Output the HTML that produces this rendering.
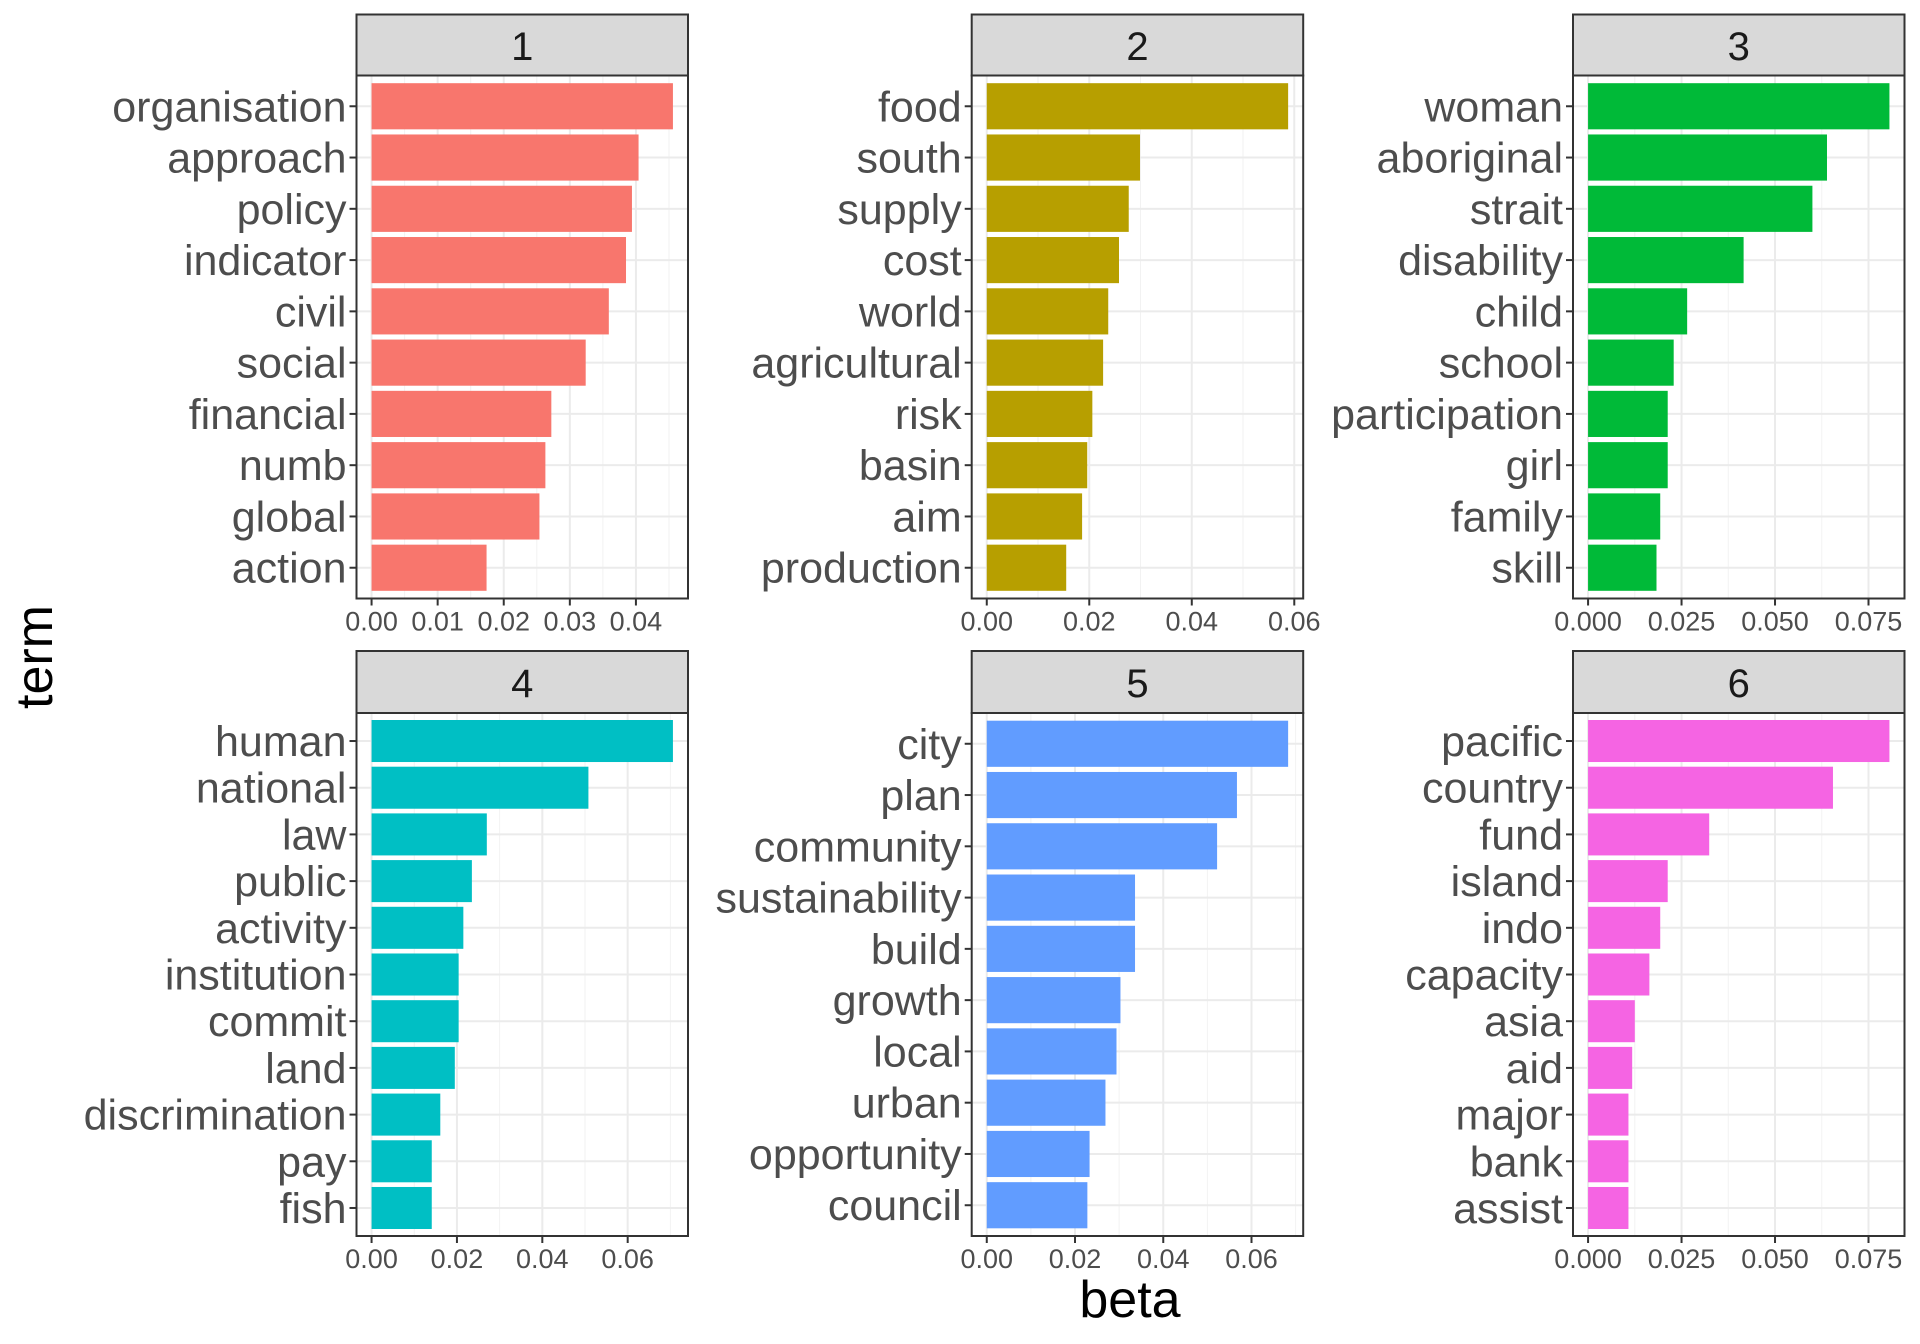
<!DOCTYPE html>
<html><head><meta charset="utf-8">
<style>
html,body{margin:0;padding:0;background:#fff;}
svg{display:block;font-family:"Liberation Sans","DejaVu Sans",sans-serif;}
</style></head>
<body>
<svg id="chart" width="1920" height="1344" viewBox="0 0 1920 1344" xmlns="http://www.w3.org/2000/svg">
<text x="1130" y="1317" font-size="52" text-anchor="middle" fill="#000">beta</text>
<text transform="translate(52,657) rotate(-90)" font-size="52" text-anchor="middle" fill="#000">term</text>
</svg>
<script>
const terms1 = ["organisation","approach","policy","indicator","civil","social","financial","numb","global","action"];
const beta1 = [0.0456,0.0404,0.0394,0.0385,0.0359,0.0324,0.0272,0.0263,0.0254,0.0174];
const terms2 = ["food","south","supply","cost","world","agricultural","risk","basin","aim","production"];
const beta2 = [0.0588,0.0299,0.0277,0.0258,0.0237,0.0227,0.0206,0.0196,0.0186,0.0155];
const terms3 = ["woman","aboriginal","strait","disability","child","school","participation","girl","family","skill"];
const beta3 = [0.0806,0.0639,0.0600,0.0416,0.0265,0.0229,0.0213,0.0213,0.0193,0.0183];
const terms4 = ["human","national","law","public","activity","institution","commit","land","discrimination","pay","fish"];
const beta4 = [0.0706,0.0508,0.0270,0.0235,0.0215,0.0204,0.0204,0.0195,0.0161,0.0141,0.0141];
const terms5 = ["city","plan","community","sustainability","build","growth","local","urban","opportunity","council"];
const beta5 = [0.0683,0.0567,0.0522,0.0336,0.0336,0.0303,0.0294,0.0269,0.0233,0.0228];
const terms6 = ["pacific","country","fund","island","indo","capacity","asia","aid","major","bank","assist"];
const beta6 = [0.0806,0.0655,0.0324,0.0213,0.0193,0.0164,0.0125,0.0118,0.0108,0.0108,0.0108];
const ticks1 = [0,0.01,0.02,0.03,0.04];
const tickLabels1 = ["0.00","0.01","0.02","0.03","0.04"];
const ticks2 = [0,0.02,0.04,0.06];
const tickLabels2 = ["0.00","0.02","0.04","0.06"];
const ticks3 = [0,0.025,0.05,0.075];
const tickLabels3 = ["0.000","0.025","0.050","0.075"];
const topicLabels = ["1","2","3","4","5","6"];

const svg = document.getElementById('chart');
const NS = 'http://www.w3.org/2000/svg';
function mk(tag, attrs, parent){
  const e = document.createElementNS(NS, tag);
  for (const k in attrs) e.setAttribute(k, attrs[k]);
  (parent||svg).appendChild(e);
  return e;
}
const colLeft = [356.5, 971.7, 1573];
const W = 331.5;
const rows = [{stripTop:14.5, top:75.5, bottom:598.5},{stripTop:651, top:713, bottom:1236}];
const panels = [
  {terms:terms1, beta:beta1, ticks:ticks1, labels:tickLabels1, color:"#F8766D", col:0, row:0},
  {terms:terms2, beta:beta2, ticks:ticks2, labels:tickLabels2, color:"#B79F00", col:1, row:0},
  {terms:terms3, beta:beta3, ticks:ticks3, labels:tickLabels3, color:"#00BA38", col:2, row:0},
  {terms:terms4, beta:beta4, ticks:ticks2, labels:tickLabels2, color:"#00BFC4", col:0, row:1},
  {terms:terms5, beta:beta5, ticks:ticks2, labels:tickLabels2, color:"#619CFF", col:1, row:1},
  {terms:terms6, beta:beta6, ticks:ticks3, labels:tickLabels3, color:"#F564E3", col:2, row:1}
];
panels.forEach((p, i) => {
  const L = colLeft[p.col], R = L + W;
  const r = rows[p.row];
  const g = mk('g', {});
  
  
  const maxV = Math.max(...p.beta);
  const lo = -0.05*maxV, hi = 1.05*maxV;
  const x = v => L + (v - lo)/(hi - lo)*W;
  const n = p.terms.length;
  const H = r.bottom - r.top;
  const step = H/(n - 1 + 1.2);
  const y = k => r.top + step*(0.6 + k);
  mk('rect', {x:L, y:r.top, width:W, height:H, fill:'#fff'}, g);
  const dmin = p.ticks[1]-p.ticks[0];
  for (let t = 0; t < p.ticks.length; t++){
    const mv = p.ticks[t] + dmin/2;
    if (x(mv) < R) mk('line', {x1:x(mv), x2:x(mv), y1:r.top, y2:r.bottom, stroke:'#f2f2f2', 'stroke-width':1}, g);
  }
  if (x(-dmin/2) > L) mk('line', {x1:x(-dmin/2), x2:x(-dmin/2), y1:r.top, y2:r.bottom, stroke:'#f2f2f2', 'stroke-width':1}, g);
  p.ticks.forEach(t => mk('line', {x1:x(t), x2:x(t), y1:r.top, y2:r.bottom, stroke:'#ebebeb', 'stroke-width':2}, g));
  p.terms.forEach((_, k) => mk('line', {x1:L, x2:R, y1:y(k), y2:y(k), stroke:'#ebebeb', 'stroke-width':2}, g));
  p.terms.forEach((t, k) => {
    const b = mk('rect', {x:x(0), y:y(k)-step*0.45, width:x(p.beta[k])-x(0), height:step*0.9, fill:p.color}, g);
    
    
    mk('line', {x1:L-7, x2:L, y1:y(k), y2:y(k), stroke:'#333', 'stroke-width':2}, g);
    const lb = mk('text', {x:L-10, y:y(k)+15, 'font-size':43, 'text-anchor':'end', fill:'#4d4d4d'}, g);
    lb.textContent = t;
    
    
  });
  p.ticks.forEach((t, k) => {
    mk('line', {x1:x(t), x2:x(t), y1:r.bottom, y2:r.bottom+7, stroke:'#333', 'stroke-width':2}, g);
    const tl = mk('text', {x:x(t), y:r.bottom+32, 'font-size':27, 'text-anchor':'middle', fill:'#4d4d4d'}, g);
    tl.textContent = p.labels[k];
    
    
  });
  mk('rect', {x:L, y:r.top, width:W, height:H, fill:'none', stroke:'#333', 'stroke-width':2}, g);
  const s = mk('rect', {x:L, y:r.stripTop, width:W, height:r.top-r.stripTop, fill:'#d9d9d9', stroke:'#333', 'stroke-width':2}, g);
  
  
  const st = mk('text', {x:L+W/2, y:r.stripTop+(r.top-r.stripTop)/2+15, 'font-size':40, 'text-anchor':'middle', fill:'#1a1a1a'}, g);
  st.textContent = topicLabels[i];
  
  
});
</script>
</body></html>
